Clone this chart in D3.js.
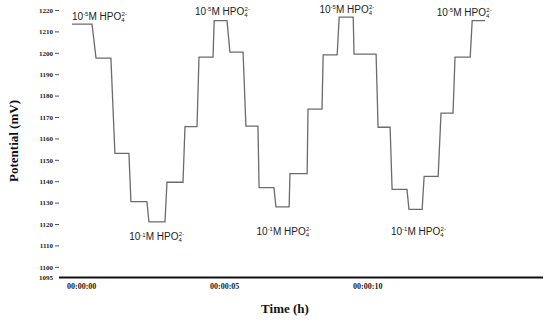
<!doctype html>
<html lang="en">
    <head>
        <meta charset="utf-8">
        <style>
        body, html{
            margin:0;
            padding:0;
            background:white;
            overflow:hidden;
        }
        svg{
            position:absolute;
            top:0;
            left:0;
            opacity:0.999;
        }
        </style>
    </head>
    <body>
        <div id="chart"></div>
        <script src="https://cdn.jsdelivr.net/npm/d3@7"></script>
        <script>

// each plateau of the recording: start (s), end (s), potential (mV)
const levelStart = [0, 0.84, 1.50, 2.06, 2.69, 3.32, 3.95, 4.44, 4.97, 5.52, 6.08, 6.54, 7.13,
                    7.62, 8.25, 8.78, 9.34, 9.86, 10.70, 11.19, 11.78, 12.31, 12.90, 13.39, 13.99];
const levelEnd   = [0.70, 1.36, 1.99, 2.62, 3.25, 3.88, 4.37, 4.93, 5.42, 5.98, 6.50, 7.06, 7.59,
                    8.22, 8.74, 9.27, 9.83, 10.63, 11.12, 11.71, 12.24, 12.80, 13.32, 13.92, 14.44];
const potential  = [1213.4, 1197.5, 1153, 1130.5, 1121, 1139.5, 1165.5, 1198, 1215, 1200.3, 1165.7, 1137, 1128,
                    1143.5, 1173.7, 1199, 1216.7, 1199.4, 1165.2, 1136.2, 1126.8, 1142.3, 1171.8, 1198, 1215];

const yTicks = [1095, 1100, 1110, 1120, 1130, 1140, 1150, 1160, 1170, 1180, 1190, 1200, 1210, 1220];
const xTicks = [0, 5, 10];
const xTickLabels = ["00:00:00", "00:00:05", "00:00:10"];

// concentration notes: time (s), potential (mV), exponent
const noteTime = [0, 4.3, 8.65, 12.75, 2.0, 6.45, 11.15];
const noteValue = [1215.5, 1217.8, 1218.6, 1217.2, 1112.5, 1115, 1115];
const noteExp = ["-5", "-5", "-5", "-5", "-1", "-1", "-1"];

const width = 550, height = 322;

const svg = d3.select("#chart").append("svg")
    .attr("width", width)
    .attr("height", height);

const x = d3.scaleLinear().domain([0, 16.5]).range([72, 544]);
const y = d3.scaleLinear().domain([1095, 1220]).range([277.5, 10]);

// step line points
let pts = [];
potential.forEach((v, i) => {
    pts.push([levelStart[i], v]);
    pts.push([levelEnd[i], v]);
});

svg.append("path")
    .datum(pts)
    .attr("fill", "none")
    .attr("stroke", "#6b6b6b")
    .attr("stroke-width", 1.3)
    .attr("d", d3.line().x(d => x(d[0])).y(d => y(d[1])));

// y axis (ticks only, no spine)
const yAxis = svg.append("g")
    .attr("transform", "translate(59,0)")
    .call(d3.axisLeft(y).tickValues(yTicks).tickSize(4).tickPadding(2).tickFormat(d3.format("d")));
yAxis.select(".domain").remove();
yAxis.selectAll(".tick line").attr("stroke", "#555");
yAxis.selectAll(".tick")
    .filter(d => d === 1095)
    .select("line").remove();
yAxis.selectAll("text")
    .style("font-family", "'Liberation Serif', serif")
    .style("font-weight", "bold")
    .style("font-size", "7px")
    .attr("fill", "#222");

// x axis line
svg.append("line")
    .attr("x1", 59).attr("x2", 543)
    .attr("y1", y(1095)).attr("y2", y(1095))
    .attr("stroke", "#111")
    .attr("stroke-width", 1.8);

svg.selectAll(".xlab")
    .data(xTicks)
    .enter().append("text")
    .attr("class", "xlab")
    .attr("x", d => x(d) - 5)
    .attr("y", 289)
    .style("font-family", "'Liberation Serif', serif")
    .style("font-weight", "bold")
    .style("font-size", "8px")
    .attr("fill", "#222")
    .text((d, i) => xTickLabels[i]);

// axis titles
svg.append("text")
    .attr("transform", "translate(18,141) rotate(-90)")
    .attr("text-anchor", "middle")
    .style("font-family", "'Liberation Serif', serif")
    .style("font-weight", "bold")
    .style("font-size", "13px")
    .attr("fill", "#111")
    .text("Potential (mV)");

svg.append("text")
    .attr("x", 285)
    .attr("y", 313)
    .attr("text-anchor", "middle")
    .style("font-family", "'Liberation Serif', serif")
    .style("font-weight", "bold")
    .style("font-size", "13px")
    .attr("fill", "#111")
    .text("Time (h)");

// concentration notes
const notes = svg.selectAll(".note")
    .data(noteTime)
    .enter().append("text")
    .attr("class", "note")
    .attr("x", d => x(d))
    .attr("y", (d, i) => y(noteValue[i]))
    .style("font-family", "'Liberation Sans', sans-serif")
    .style("font-size", "10px")
    .attr("fill", "#222");

notes.append("tspan").text("10");
notes.append("tspan")
    .attr("dy", -3.5)
    .style("font-size", "6px")
    .text((d, i) => noteExp[i]);
notes.append("tspan")
    .attr("dy", 3.5)
    .text("M HPO");
notes.append("tspan")
    .attr("dy", 2)
    .style("font-size", "6px")
    .text("4");
notes.append("tspan")
    .attr("dy", -6)
    .attr("dx", -3)
    .style("font-size", "6px")
    .text("2-");

        </script>
    </body>
</html>
